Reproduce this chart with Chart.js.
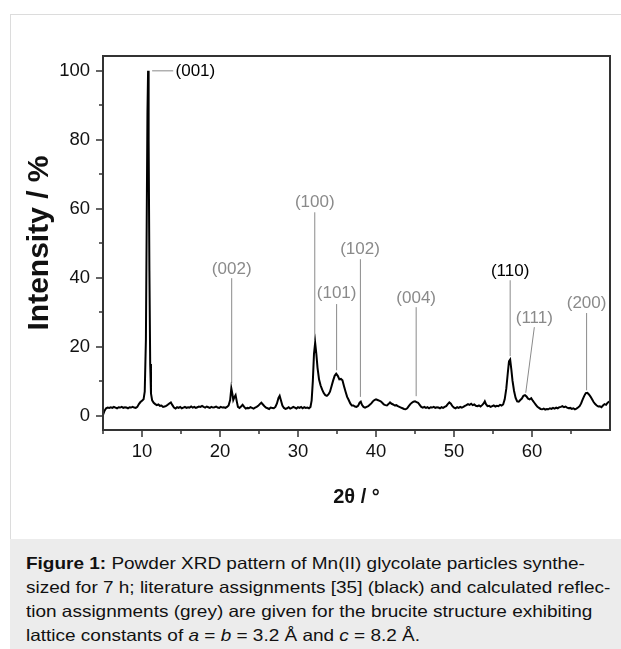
<!DOCTYPE html>
<html>
<head>
<meta charset="utf-8">
<script src="https://cdn.jsdelivr.net/npm/chart.js@4.4.1/dist/chart.umd.min.js"></script>
<style>
  html, body { margin:0; padding:0; background:#fff; overflow:hidden; width:621px; height:649px; }
  #frame { position:absolute; left:10px; top:14px; width:700px; height:700px; border:1px solid #dcdcdc; box-sizing:border-box; }
  #cv { position:absolute; left:0; top:0; }
  #caption { position:absolute; left:10px; top:539px; width:700px; height:120px; background:#ececec;
    padding:0; box-sizing:border-box; }
  #captext { position:absolute; left:16px; top:0px; white-space:nowrap;
    font-family:"Liberation Sans", Arial, sans-serif; font-size:16.5px; line-height:24px; color:#111;
    transform: scaleX(1.15); transform-origin: 0 0; padding-top:12px; }
</style>
</head>
<body>
<div id="frame"></div>
<canvas id="cv" width="621" height="539"></canvas>
<div id="caption"><div id="captext"><b>Figure 1:</b> Powder XRD pattern of Mn(II) glycolate particles synthe-<br>sized for 7 h; literature assignments [35] (black) and calculated reflec-<br>tion assignments (grey) are given for the brucite structure exhibiting<br>lattice constants of <i>a</i> = <i>b</i> = 3.2 Å and <i>c</i> = 8.2 Å.</div></div>
<script>
// ---- data ----
const twoTheta = [
5.0,5.2,5.4,5.6,5.8,6.0,6.2,6.4,6.6,6.8,7.0,7.2,7.4,7.6,7.8,8.0,8.2,8.4,8.6,8.8,9.0,9.2,9.4,9.6,9.8,10.0,10.2,10.35,10.5,10.6,10.7,10.78,10.85,10.95,11.05,11.15,11.3,11.5,11.7,11.9,
12.1,12.3,12.5,12.7,12.9,13.1,13.3,13.5,13.7,13.9,14.1,14.3,14.5,14.7,14.9,15.1,15.3,15.5,15.7,15.9,16.1,16.3,16.5,16.7,16.9,17.1,17.3,17.5,17.7,17.9,
18.1,18.3,18.5,18.7,18.9,19.1,19.3,19.5,19.7,19.9,20.1,20.3,20.5,20.7,20.9,21.1,21.3,21.45,21.6,21.7,21.85,22.0,22.15,22.3,22.5,22.7,22.9,23.1,23.3,23.5,
23.7,23.9,24.1,24.3,24.5,24.7,24.9,25.1,25.3,25.5,25.7,25.9,26.1,26.3,26.5,26.7,26.9,27.1,27.3,27.5,27.65,27.8,28.0,28.2,28.4,28.6,28.8,29.0,29.2,29.4,
29.6,29.8,30.0,30.2,30.4,30.6,30.8,31.0,31.2,31.4,31.6,31.75,31.9,32.05,32.2,32.35,32.5,32.7,32.9,33.1,33.3,33.5,33.7,33.9,34.1,34.3,34.5,34.7,34.9,35.1,
35.3,35.5,35.7,35.9,36.1,36.3,36.5,36.7,36.9,37.1,37.3,37.5,37.7,37.9,38.05,38.2,38.4,38.6,38.8,39.0,39.2,39.4,39.6,39.8,40.0,40.2,40.4,40.6,40.8,41.0,
41.2,41.4,41.6,41.8,42.0,42.2,42.4,42.6,42.8,43.0,43.2,43.4,43.6,43.8,44.0,44.2,44.4,44.6,44.8,45.0,45.2,45.4,45.6,45.8,46.0,46.2,46.4,46.6,46.8,47.0,
47.2,47.4,47.6,47.8,48.0,48.2,48.4,48.6,48.8,49.0,49.2,49.4,49.6,49.8,50.0,50.2,50.4,50.6,50.8,51.0,51.2,51.4,51.6,51.8,52.0,52.2,52.4,52.6,52.8,53.0,
53.2,53.4,53.6,53.8,53.95,54.1,54.3,54.5,54.7,54.9,55.1,55.3,55.5,55.7,55.9,56.1,56.3,56.5,56.7,56.9,57.05,57.2,57.35,57.5,57.7,57.9,58.1,58.3,58.5,58.7,
58.9,59.1,59.3,59.5,59.7,59.9,60.1,60.3,60.5,60.7,60.9,61.1,61.3,61.5,61.7,61.9,62.1,62.3,62.5,62.7,62.9,63.1,63.3,63.5,63.7,63.9,64.1,64.3,64.5,64.7,
64.9,65.1,65.3,65.5,65.7,65.9,66.1,66.3,66.5,66.7,66.9,67.1,67.3,67.5,67.7,67.9,68.1,68.3,68.5,68.7,68.9,69.1,69.3,69.5,69.7,69.9,70.0
];
const intensity = [
0.3,1.5,2.2,2.4,2.3,2.5,2.3,2.6,2.4,2.2,2.5,2.4,2.6,2.3,2.5,2.4,2.2,2.5,2.4,2.6,2.4,2.3,2.6,3.4,4.0,4.4,4.8,7,22,55,88,100,80,42,15,6.5,4.5,3.8,3.4,3.1,
3.3,2.9,3.0,2.6,2.7,2.9,3.2,3.6,3.9,3.1,2.4,2.1,2.5,2.3,2.6,2.2,2.4,2.6,2.3,2.5,2.4,2.7,2.4,2.6,2.3,2.5,2.7,2.6,2.9,2.6,
2.4,2.7,2.5,2.3,2.6,2.4,2.5,2.7,2.4,2.3,2.6,2.4,2.5,2.3,2.6,3.0,4.6,8.0,6.2,4.6,5.4,6.0,4.2,2.6,2.3,2.7,3.2,2.6,2.1,2.3,
2.2,2.5,2.3,2.1,2.4,2.6,2.9,3.4,3.8,3.3,2.8,2.4,2.2,2.0,2.4,2.3,2.2,2.6,3.6,5.2,5.8,4.6,3.0,2.3,2.0,2.2,2.5,2.1,2.3,2.6,
2.4,2.1,2.5,2.3,2.6,2.2,2.5,2.3,2.4,2.2,2.6,4.5,10,18,21.2,18,14,10.5,8.8,7.6,6.6,6.0,5.8,6.2,7.0,8.6,10.2,11.6,12.2,11.6,
10.6,10.7,10.3,8.6,7.0,5.5,4.6,3.6,3.0,3.0,2.7,2.6,2.9,3.8,4.1,3.2,2.6,2.4,2.6,2.8,3.2,3.6,4.2,4.6,4.8,4.6,4.4,4.2,3.8,3.3,
3.1,3.0,3.4,3.9,3.5,3.3,3.0,3.1,2.8,2.6,2.4,2.2,2.0,1.9,2.2,2.8,3.4,3.8,4.1,4.2,4.0,3.8,3.2,2.6,2.4,2.6,2.3,2.5,2.2,2.5,
2.4,2.6,2.3,2.5,2.4,2.2,2.5,2.3,2.6,2.8,3.4,3.9,3.5,2.8,2.4,2.2,2.5,2.3,2.6,2.4,2.6,2.9,3.1,3.4,3.2,3.5,3.1,3.3,2.9,2.8,
3.0,2.7,3.1,3.6,4.2,3.4,2.8,2.9,2.6,2.8,3.0,2.7,2.9,2.8,3.2,3.0,3.3,4.8,7.8,12.5,15.8,16.3,13.5,10.2,7.2,5.2,4.2,4.1,4.6,5.0,
5.8,6.0,5.6,5.0,4.8,5.1,4.4,3.8,3.2,2.6,2.3,2.0,1.9,2.1,1.8,2.0,1.9,2.2,2.0,2.3,2.1,2.4,2.2,2.5,2.6,2.8,2.5,2.7,2.4,2.2,
2.3,2.0,2.2,1.9,2.1,2.4,2.8,3.6,4.8,5.8,6.6,6.7,6.2,5.6,4.8,4.0,3.4,3.0,2.7,2.8,2.5,3.0,3.4,3.2,3.8,4.1,4.2
];
const xTickValues = [5,10,15,20,25,30,35,40,45,50,55,60,65];
const yTickValues = [0,10,20,30,40,50,60,70,80,90,100];

// reflection assignments (Miller indices), label anchor and leader line (data coords)
const hkl        = ['(001)','(002)','(100)','(101)','(102)','(004)','(110)','(111)','(200)'];
const source     = ['literature','calculated','calculated','calculated','calculated','calculated','literature','calculated','calculated'];
const labelX     = [14.3, 21.5, 32.15, 34.95, 37.95, 45.15, 57.2, 60.3, 67.0];
const labelY     = [100, 42.5, 62, 35.6, 48.3, 34.1, 42, 28.3, 32.7];
const leaderX1   = [11.3, 21.5, 32.15, 34.95, 38.0, 45.15, 57.2, 60.3, 67.0];
const leaderY1   = [100, 39.9, 59, 32.4, 45.4, 31.5, 39.3, 25.7, 29.8];
const leaderX2   = [14.0, 21.5, 32.15, 34.95, 38.0, 45.15, 57.2, 59.2, 67.0];
const leaderY2   = [100, 9.5, 22, 13.2, 5.5, 5.7, 17.3, 6.7, 7.4];

const FONT = '"Liberation Sans", Arial, sans-serif';

const decor = {
  id: 'decor',
  beforeDatasetsDraw(chart) {
    const {ctx, scales:{x, y}} = chart;
    ctx.save();
    ctx.lineWidth = 1;
    ctx.strokeStyle = '#8a8a8a';
    for (let i = 0; i < hkl.length; i++) {
      ctx.beginPath();
      ctx.moveTo(x.getPixelForValue(leaderX1[i]), y.getPixelForValue(leaderY1[i]));
      ctx.lineTo(x.getPixelForValue(leaderX2[i]), y.getPixelForValue(leaderY2[i]));
      ctx.stroke();
    }
    ctx.font = '17px ' + FONT;
    ctx.textBaseline = 'middle';
    for (let i = 0; i < hkl.length; i++) {
      ctx.fillStyle = source[i] === 'literature' ? '#000' : '#8a8a8a';
      ctx.textAlign = i === 0 ? 'left' : 'center';
      ctx.fillText(hkl[i], x.getPixelForValue(labelX[i]), y.getPixelForValue(labelY[i]));
    }
    ctx.restore();
  },
  afterDraw(chart) {
    const {ctx, chartArea:a, scales:{x, y}} = chart;
    ctx.save();
    ctx.strokeStyle = '#333';
    ctx.lineWidth = 2;
    ctx.strokeRect(a.left, a.top, a.right - a.left, a.bottom - a.top);
    ctx.lineWidth = 1.5;
    ctx.beginPath();
    x.ticks.forEach(t => {
      const px = Math.round(x.getPixelForValue(t.value));
      const len = t.value % 10 === 0 ? 7 : 4;
      ctx.moveTo(px, a.bottom); ctx.lineTo(px, a.bottom + len);
    });
    y.ticks.forEach(t => {
      const py = Math.round(y.getPixelForValue(t.value));
      const len = t.value % 20 === 0 ? 7 : 4;
      ctx.moveTo(a.left, py); ctx.lineTo(a.left - len, py);
    });
    ctx.stroke();
    ctx.restore();
  }
};

new Chart(document.getElementById('cv'), {
  type: 'line',
  data: {
    datasets: [{
      data: twoTheta.map((v, i) => ({x: v, y: intensity[i]})),
      borderColor: '#000',
      borderWidth: 2,
      pointRadius: 0,
      tension: 0,
      fill: false
    }]
  },
  options: {
    responsive: false,
    animation: false,
    devicePixelRatio: 1,
    layout: { padding: { left: 20, top: 56, right: 11, bottom: 24 } },
    plugins: { legend: { display: false }, tooltip: { enabled: false } },
    scales: {
      x: {
        type: 'linear', min: 5, max: 70, position: 'bottom',
        afterFit: s => { s.height = 85; },
        afterBuildTicks: s => { s.ticks = xTickValues.map(v => ({value: v})); },
        grid: { display: false, drawTicks: false },
        border: { display: false },
        ticks: { autoSkip: false, maxRotation: 0, padding: 11, color: '#111',
          font: { family: FONT, size: 18.5 },
          callback: v => (v % 10 === 0 ? String(v) : '') },
        title: { display: true, text: '2θ / °', color: '#111',
          font: { family: FONT, size: 20, weight: 'bold' }, padding: { top: 0, bottom: 6 } }
      },
      y: {
        type: 'linear', min: -4.1, max: 104.3,
        afterFit: s => { s.width = 83; },
        afterBuildTicks: s => { s.ticks = yTickValues.map(v => ({value: v})); },
        grid: { display: false, drawTicks: false },
        border: { display: false },
        ticks: { autoSkip: false, padding: 13, color: '#111',
          font: { family: FONT, size: 18.5 },
          callback: v => (v % 20 === 0 ? String(v) : '') },
        title: { display: true, text: 'Intensity / %', color: '#111',
          font: { family: FONT, size: 30, weight: 'bold' }, padding: { top: 2, bottom: 0 } }
      }
    }
  },
  plugins: [decor]
});
</script>
</body>
</html>
